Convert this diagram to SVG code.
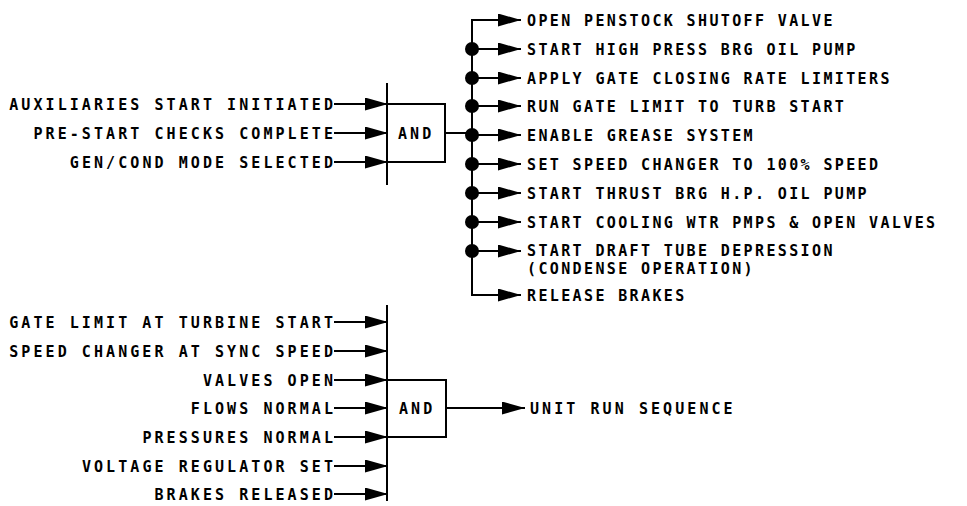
<svg xmlns="http://www.w3.org/2000/svg" width="967" height="506" viewBox="0 0 967 506">
<style>
text{font-family:"DejaVu Sans Mono","Liberation Mono",monospace;font-weight:bold;font-size:15px;letter-spacing:3.07px;fill:#000}
.r{text-anchor:end}
.o text{letter-spacing:2.37px}
.ln{fill:none;stroke:#000;stroke-width:2}
.ar{marker-end:url(#ah)}
.dot{fill:#000}
</style>
<defs>
<marker id="ah" viewBox="0 0 23 13" refX="23" refY="6.5" markerWidth="23" markerHeight="13" markerUnits="userSpaceOnUse" orient="auto">
<path d="M0,0 L23,6.5 L0,13 Z" fill="#000"/>
</marker>
</defs>
<rect width="967" height="506" fill="#fff"/>
<g id="connectors">
<path class="ln ar" d="M334,104 H388"/>
<path class="ln ar" d="M334,133 H388"/>
<path class="ln ar" d="M334,162 H388"/>
<path class="ln" d="M446,133 H472"/>
<path class="ln ar" d="M472,135 V20 H521"/>
<path class="ln ar" d="M472,135 V295 H521"/>
<path class="ln ar" d="M472,49 H521"/>
<path class="ln ar" d="M472,78 H521"/>
<path class="ln ar" d="M472,106 H521"/>
<path class="ln ar" d="M472,135 H521"/>
<path class="ln ar" d="M472,164 H521"/>
<path class="ln ar" d="M472,193 H521"/>
<path class="ln ar" d="M472,222 H521"/>
<path class="ln ar" d="M472,251 H521"/>
<path class="ln ar" d="M334,322 H388"/>
<path class="ln ar" d="M334,351 H388"/>
<path class="ln ar" d="M334,380 H388"/>
<path class="ln ar" d="M334,408 H388"/>
<path class="ln ar" d="M334,437 H388"/>
<path class="ln ar" d="M334,466 H388"/>
<path class="ln ar" d="M334,494 H388"/>
<path class="ln ar" d="M446,408 H525"/>
</g>
<g id="and1">
<path class="ln" d="M387,104 H445 V162 H387"/>
<path class="ln" d="M387,83 V185"/>
<text x="398" y="138.5">AND</text>
</g>
<g id="and2">
<path class="ln" d="M387,380 H446 V437 H387"/>
<path class="ln" d="M387,305 V501"/>
<text x="399" y="413.5">AND</text>
</g>
<g id="dots">
<circle class="dot" cx="472" cy="49" r="7"/>
<circle class="dot" cx="472" cy="78" r="7"/>
<circle class="dot" cx="472" cy="106" r="7"/>
<circle class="dot" cx="472" cy="135" r="7"/>
<circle class="dot" cx="472" cy="164" r="7"/>
<circle class="dot" cx="472" cy="193" r="7"/>
<circle class="dot" cx="472" cy="222" r="7"/>
<circle class="dot" cx="472" cy="251" r="7"/>
</g>
<g id="in-aux"><text class="r" x="336" y="109.5">AUXILIARIES START INITIATED</text></g>
<g id="in-pre"><text class="r" x="336" y="138.5">PRE-START CHECKS COMPLETE</text></g>
<g id="in-gen"><text class="r" x="336" y="167.5">GEN/COND MODE SELECTED</text></g>
<g id="out-1" class="o"><text x="527" y="25.5">OPEN PENSTOCK SHUTOFF VALVE</text></g>
<g id="out-2" class="o"><text x="527" y="54.5">START HIGH PRESS BRG OIL PUMP</text></g>
<g id="out-3" class="o"><text x="527" y="83.5">APPLY GATE CLOSING RATE LIMITERS</text></g>
<g id="out-4" class="o"><text x="527" y="111.5">RUN GATE LIMIT TO TURB START</text></g>
<g id="out-5" class="o"><text x="527" y="140.5">ENABLE GREASE SYSTEM</text></g>
<g id="out-6" class="o"><text x="527" y="169.5">SET SPEED CHANGER TO 100% SPEED</text></g>
<g id="out-7" class="o"><text x="527" y="198.5">START THRUST BRG H.P. OIL PUMP</text></g>
<g id="out-8" class="o"><text x="527" y="227.5">START COOLING WTR PMPS &amp; OPEN VALVES</text></g>
<g id="out-9" class="o"><text x="527" y="255.5">START DRAFT TUBE DEPRESSION</text><text x="527" y="274">(CONDENSE OPERATION)</text></g>
<g id="out-10" class="o"><text x="527" y="300.5">RELEASE BRAKES</text></g>
<g id="in-gate"><text class="r" x="336" y="327.5">GATE LIMIT AT TURBINE START</text></g>
<g id="in-speed"><text class="r" x="336" y="356.5">SPEED CHANGER AT SYNC SPEED</text></g>
<g id="in-valves"><text class="r" x="336" y="385.5">VALVES OPEN</text></g>
<g id="in-flows"><text class="r" x="336" y="413.5">FLOWS NORMAL</text></g>
<g id="in-press"><text class="r" x="336" y="442.5">PRESSURES NORMAL</text></g>
<g id="in-volt"><text class="r" x="336" y="471.5">VOLTAGE REGULATOR SET</text></g>
<g id="in-brakes"><text class="r" x="336" y="499.5">BRAKES RELEASED</text></g>
<g id="out-run"><text x="530" y="413.5">UNIT RUN SEQUENCE</text></g>
</svg>
